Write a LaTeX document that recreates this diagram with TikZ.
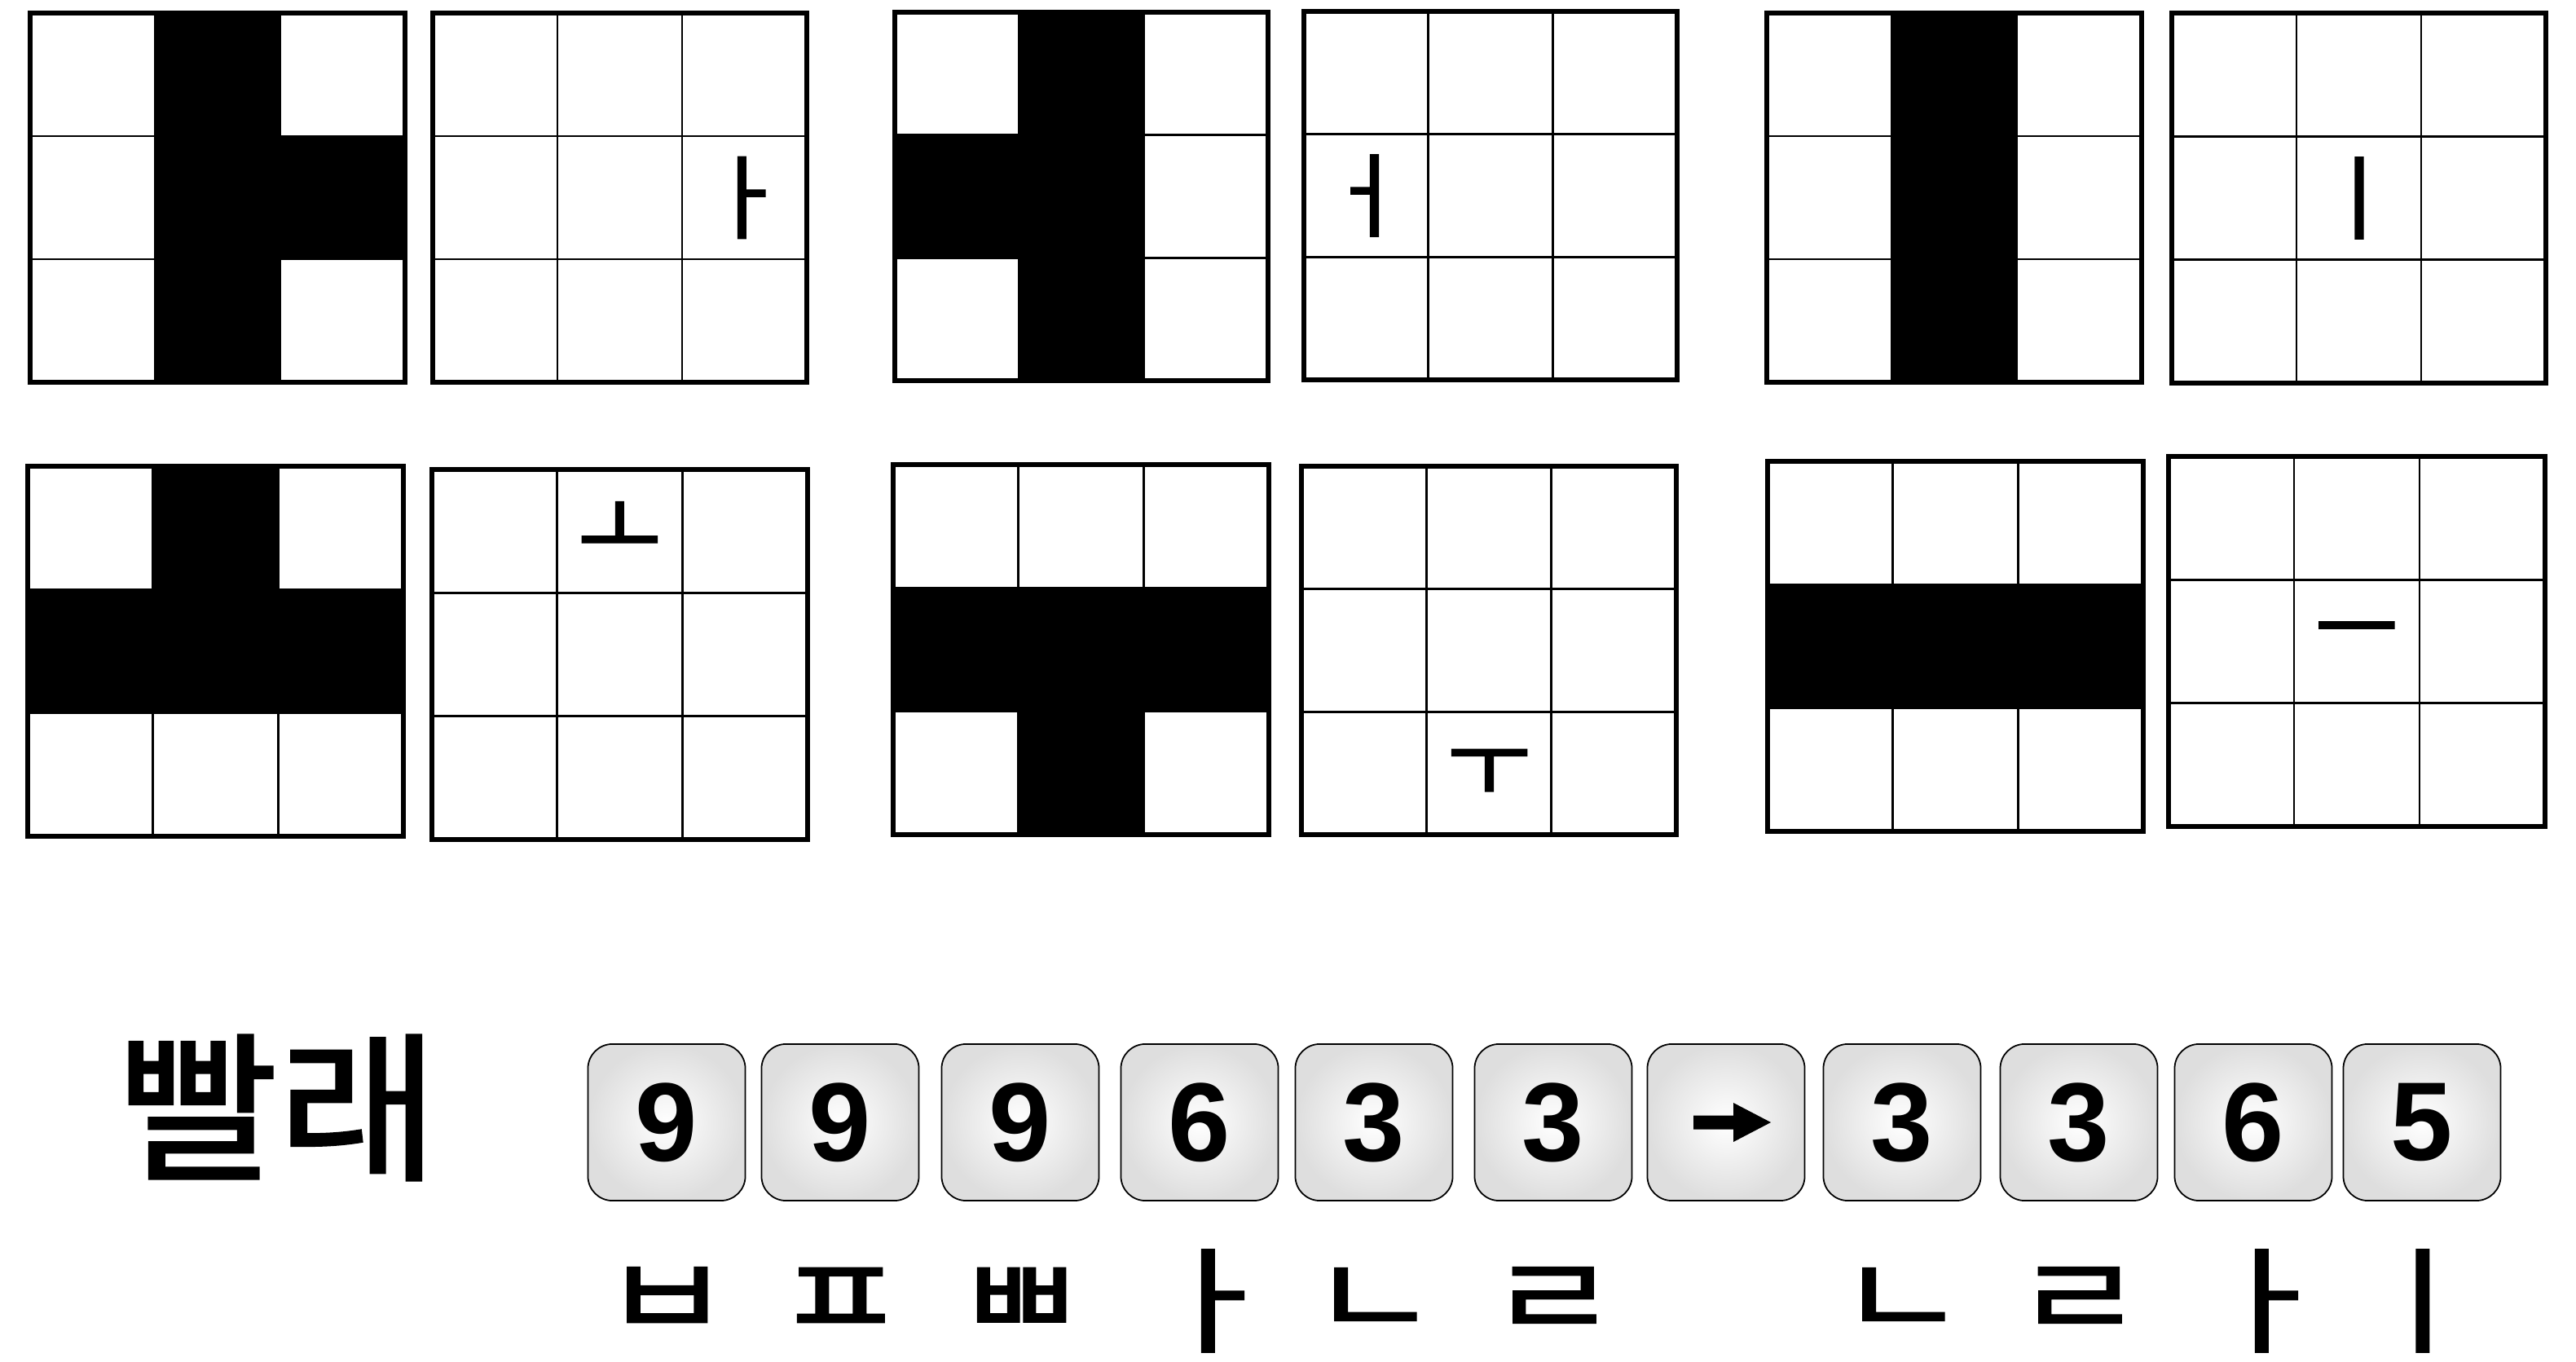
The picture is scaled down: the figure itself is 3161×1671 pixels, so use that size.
\documentclass[tikz,border=0pt]{standalone}
\usepackage{fontspec}
\usepackage{graphicx}
\setmainfont{Liberation Sans}
\newfontfamily\kor{Noto Sans CJK KR}
\newfontfamily\korfb[FakeBold=1.6]{Noto Sans CJK KR}
\tikzset{
  x=0.01cm, y=-0.01cm,
  gridout/.style={line width=1.7pt, line join=miter},
  gridin/.style={line width=0.7pt},
  gjamo/.style={inner sep=0pt, font=\korfb\fontsize{32}{32}\selectfont},
  bjamo/.style={inner sep=0pt, font=\korfb\fontsize{49}{49}\selectfont},
  title/.style={inner sep=0pt, font=\korfb\fontsize{56}{56}\selectfont},
  keybox/.style={draw, line width=0.5pt, rounded corners=0.3cm, minimum width=1.93cm,
    minimum height=1.92cm, inner sep=0pt, inner color=white, outer color=black!13,
    font=\bfseries\fontsize{39}{39}\selectfont},
}
\newcommand\blackgrid[5]{%
  \pgfmathsetmacro\cw{(#3-#1)/3}%
  \pgfmathsetmacro\ch{(#4-#2)/3}%
  \foreach \c/\r in {#5} {\fill (#1+\c*\cw,#2+\r*\ch) rectangle ++(\cw,\ch);}
  \foreach \i in {1,2} {\draw[gridin] (#1+\i*\cw,#2) -- ++(0,3*\ch);
                        \draw[gridin] (#1,#2+\i*\ch) -- ++(3*\cw,0);}
  \draw[gridout] (#1,#2) rectangle (#3,#4);
}
\newcommand\jamogrid[8]{%
  \pgfmathsetmacro\cw{(#3-#1)/3}%
  \pgfmathsetmacro\ch{(#4-#2)/3}%
  \foreach \i in {1,2} {\draw[gridin] (#1+\i*\cw,#2) -- ++(0,3*\ch);
                        \draw[gridin] (#1,#2+\i*\ch) -- ++(3*\cw,0);}
  \draw[gridout] (#1,#2) rectangle (#3,#4);
  \node[gjamo] (#8) at (#1+#5*\cw+0.5*\cw,#2+#6*\ch+0.5*\ch) {#7};
}
\newcommand\sqz[1]{\scalebox{1}[0.8]{#1}}
\newcommand\vsqz[1]{\scalebox{1}[0.82]{#1}}
\begin{document}
\begin{tikzpicture}
\useasboundingbox (0,0) rectangle (3161,1671);
% row 1
\blackgrid{37}{16}{497}{469}{1/0,1/1,1/2,2/1}
\jamogrid{531}{16}{990}{469}{2}{1}{ㅏ}{ga}
\blackgrid{1098}{15}{1556}{467}{1/0,1/1,1/2,0/1}
\jamogrid{1600}{14}{2058}{466}{0}{1}{ㅓ}{geo}
\blackgrid{2168}{16}{2628}{469}{1/0,1/1,1/2}
\jamogrid{2665}{16}{3124}{470}{1}{1}{ㅣ}{gi}
% row 2
\blackgrid{34}{572}{495}{1026}{1/0,0/1,1/1,2/1}
\jamogrid{530}{576}{991}{1030}{1}{0}{ㅗ}{go}
\blackgrid{1096}{570}{1557}{1024}{0/1,1/1,2/1,1/2}
\jamogrid{1597}{572}{2057}{1024}{1}{2}{ㅜ}{gu}
\blackgrid{2169}{566}{2630}{1020}{0/1,1/1,2/1}
\jamogrid{2661}{560}{3123}{1014}{1}{1}{ㅡ}{geu}
% title
\node[title] (word) at (341,1359) {\scalebox{1.09}[1]{빨래}};
% keys
\node[keybox] (k1) at (818,1377) {9};
\node[keybox] (k2) at (1031,1377) {9};
\node[keybox] (k3) at (1252,1377) {9};
\node[keybox] (k4) at (1472,1377) {6};
\node[keybox] (k5) at (1686,1377) {3};
\node[keybox] (k6) at (1906,1377) {3};
\node[keybox] (k7) at (2118,1377) {};
\node[keybox] (k8) at (2334,1377) {3};
\node[keybox] (k9) at (2551,1377) {3};
\node[keybox] (k10) at (2765,1377) {6};
\node[keybox] (k11) at (2972,1377) {5};
\begin{scope}[shift={(k7.center)}]
  \fill (-40,-8.5) -- (9,-8.5) -- (9,-24) -- (55,0) -- (9,24) -- (9,8.5) -- (-40,8.5) -- cycle;
\end{scope}
% jamo under keys
\node[bjamo] (j1) at (k1.center |- 0,1598) {\sqz{ㅂ}};
\node[bjamo] (j2) at (k2.center |- 0,1598) {\sqz{ㅍ}};
\node[bjamo] (j3) at (k3.center |- 0,1598) {\sqz{ㅃ}};
\node[bjamo] (j4) at ([xshift=0.15cm]k4.center |- 0,1596) {\vsqz{ㅏ}};
\node[bjamo] (j5) at (k5.center |- 0,1598) {\sqz{ㄴ}};
\node[bjamo] (j6) at (k6.center |- 0,1598) {\sqz{ㄹ}};
\node[bjamo] (j8) at (k8.center |- 0,1598) {\sqz{ㄴ}};
\node[bjamo] (j9) at (k9.center |- 0,1598) {\sqz{ㄹ}};
\node[bjamo] (j10) at ([xshift=0.15cm]k10.center |- 0,1596) {\vsqz{ㅏ}};
\node[bjamo] (j11) at (k11.center |- 0,1596) {\vsqz{ㅣ}};
\end{tikzpicture}
\end{document}
